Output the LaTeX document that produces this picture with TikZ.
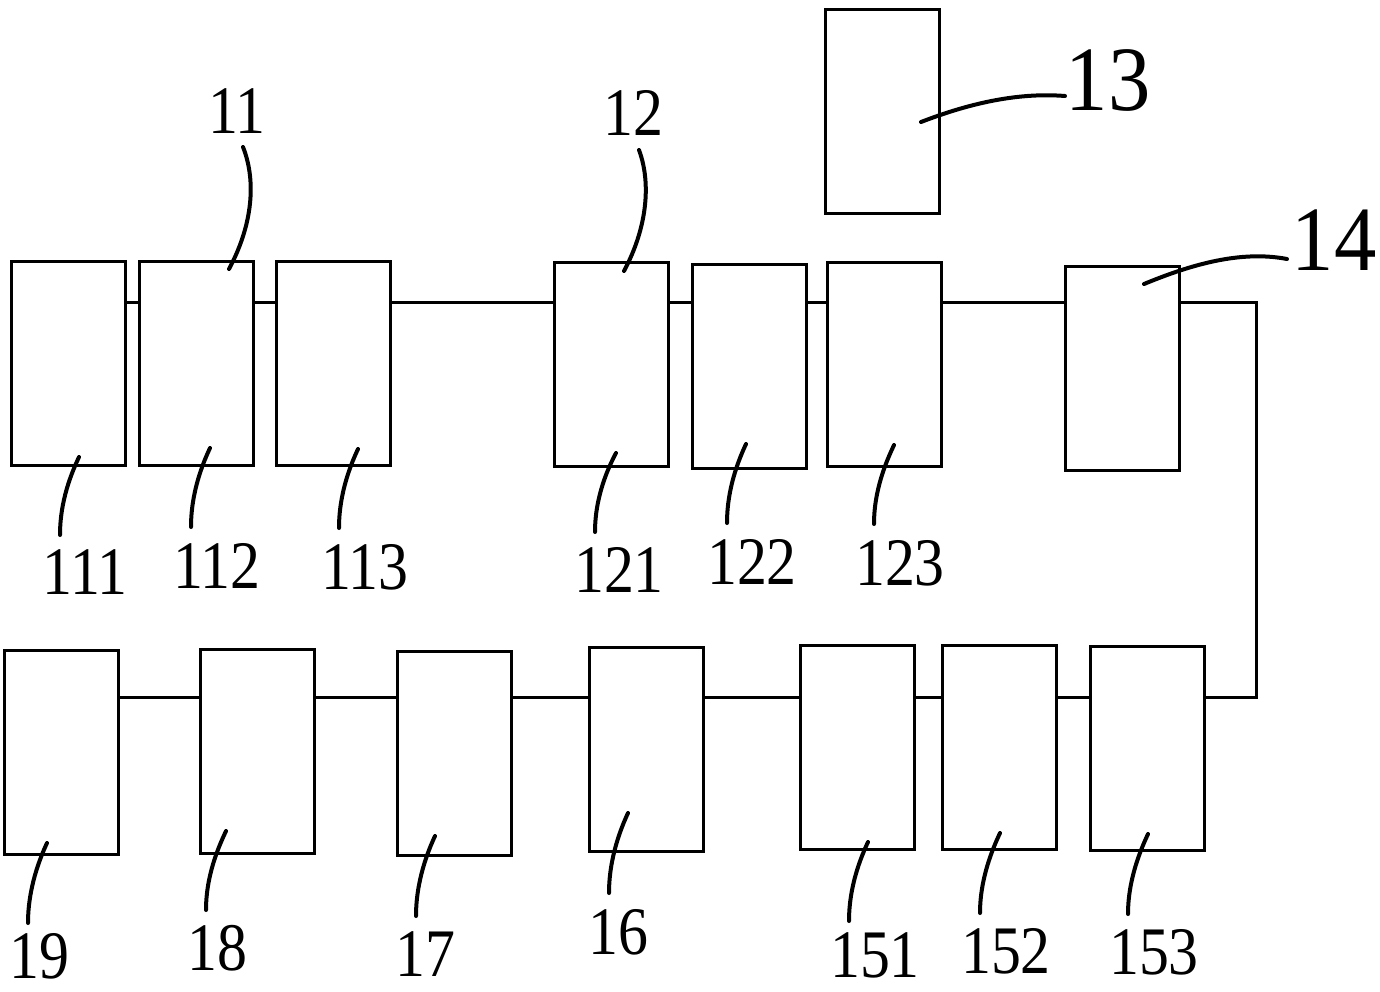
\documentclass[tikz,border=0pt]{standalone}
\usepackage{graphicx}
\usepackage{fontspec}
\setmainfont{Liberation Serif}
\tikzset{
  blk/.style={draw, line width=3pt, minimum width=114pt, minimum height=204pt, inner sep=0pt, fill=white},
  wire/.style={line width=3pt},
  leader/.style={line width=4pt, line cap=round},
  lbl/.style={inner sep=0pt, font=\fontsize{68}{68}\selectfont},
  biglbl/.style={inner sep=0pt, font=\fontsize{92}{92}\selectfont}
}
\newcommand{\nar}[1]{\scalebox{0.88}[1]{#1}}
\begin{document}
\begin{tikzpicture}[x=1pt,y=-1pt]
\useasboundingbox (0,0) rectangle (1380,991);
% boxes
\node[blk] (b111) at (68.5,363.5) {};
\node[blk] (b112) at (196,363.5) {};
\node[blk] (b113) at (333.5,363.5) {};
\node[blk] (b121) at (611,364.5) {};
\node[blk] (b122) at (749,366.5) {};
\node[blk] (b123) at (884.5,364.5) {};
\node[blk] (b13)  at (882.5,111) {};
\node[blk] (b14)  at (1122,368.5) {};
\node[blk] (b19)  at (61.5,752) {};
\node[blk] (b18)  at (257.5,751) {};
\node[blk] (b17)  at (454,753) {};
\node[blk] (b16)  at (646.5,749) {};
\node[blk] (b151) at (857,747) {};
\node[blk] (b152) at (999,747) {};
\node[blk] (b153) at (1147,748.5) {};
% wire levels
\coordinate (tl) at (0,302);
\coordinate (bl) at (0,697);
\coordinate (corner) at (1256.5,302.5);
% top row
\draw[wire] (b111.east |- tl) -- (b112.west |- tl);
\draw[wire] (b112.east |- tl) -- (b113.west |- tl);
\draw[wire] (b113.east |- tl) -- (b121.west |- tl);
\draw[wire] (b121.east |- tl) -- (b122.west |- tl);
\draw[wire] (b122.east |- tl) -- (b123.west |- tl);
\draw[wire] (b123.east |- tl) -- (b14.west |- tl);
\draw[wire] (b14.east |- corner) -- (corner) |- (b153.east |- bl);
% bottom row
\draw[wire] (b153.west |- bl) -- (b152.east |- bl);
\draw[wire] (b152.west |- bl) -- (b151.east |- bl);
\draw[wire] (b151.west |- bl) -- (b16.east |- bl);
\draw[wire] (b16.west |- bl) -- (b17.east |- bl);
\draw[wire] (b17.west |- bl) -- (b18.east |- bl);
\draw[wire] (b18.west |- bl) -- (b19.east |- bl);
% labels
\node[lbl] (l11) at (237,111) {\nar{11}};
\node[lbl] (l12) at (633,113) {\nar{12}};
\node[biglbl] (l13) at (1108,80) {\scalebox{0.92}[1]{13}};
\node[biglbl] (l14) at (1334,240) {\scalebox{0.92}[1]{14}};
\node[lbl] (l111) at (85,572) {\nar{111}};
\node[lbl] (l112) at (217,566) {\nar{112}};
\node[lbl] (l113) at (365,567) {\nar{113}};
\node[lbl] (l121) at (619,570) {\nar{121}};
\node[lbl] (l122) at (752,562) {\nar{122}};
\node[lbl] (l123) at (900,563) {\nar{123}};
\node[lbl] (l19) at (39,956) {\nar{19}};
\node[lbl] (l18) at (217,948) {\nar{18}};
\node[lbl] (l17) at (425,954) {\nar{17}};
\node[lbl] (l16) at (618,932) {\nar{16}};
\node[lbl] (l151) at (875,955) {\nar{151}};
\node[lbl] (l152) at (1006,951) {\nar{152}};
\node[lbl] (l153) at (1154,952) {\nar{153}};
% leader end points
\coordinate (o11) at (243,147);   \coordinate (i11) at (229,269);
\coordinate (o12) at (639,150);   \coordinate (i12) at (624,271);
\coordinate (i13) at (921,122);   \coordinate (o13) at (1065,96);
\coordinate (i14) at (1144,284);  \coordinate (o14) at (1287,259);
\coordinate (o111) at (60,535);   \coordinate (i111) at (79,457);
\coordinate (o112) at (191,527);  \coordinate (i112) at (210,448);
\coordinate (o113) at (339,528);  \coordinate (i113) at (358,449);
\coordinate (o121) at (595,532);  \coordinate (i121) at (616,453);
\coordinate (o122) at (727,523);  \coordinate (i122) at (746,444);
\coordinate (o123) at (874,524);  \coordinate (i123) at (894,445);
\coordinate (o19) at (28,923);    \coordinate (i19) at (47,843);
\coordinate (o18) at (206,910);   \coordinate (i18) at (226,831);
\coordinate (o17) at (416,916);   \coordinate (i17) at (435,836);
\coordinate (o16) at (609,893);   \coordinate (i16) at (628,813);
\coordinate (o151) at (849,921);  \coordinate (i151) at (868,842);
\coordinate (o152) at (980,913);  \coordinate (i152) at (1000,833);
\coordinate (o153) at (1128,914); \coordinate (i153) at (1148,834);
% leaders
\draw[leader] (o11) .. controls (258,185) and (250,230) .. (i11);
\draw[leader] (o12) .. controls (652,185) and (646,230) .. (i12);
\draw[leader] (i13) .. controls (965,105) and (1015,92) .. (o13);
\draw[leader] (i14) .. controls (1190,265) and (1240,250) .. (o14);
\draw[leader] (o111) .. controls (60,500) and (72,472) .. (i111);
\draw[leader] (o112) .. controls (191,492) and (203,463) .. (i112);
\draw[leader] (o113) .. controls (339,493) and (351,464) .. (i113);
\draw[leader] (o121) .. controls (595,497) and (608,468) .. (i121);
\draw[leader] (o122) .. controls (727,488) and (739,459) .. (i122);
\draw[leader] (o123) .. controls (874,489) and (887,460) .. (i123);
\draw[leader] (o19) .. controls (28,888) and (40,858) .. (i19);
\draw[leader] (o18) .. controls (206,875) and (219,846) .. (i18);
\draw[leader] (o17) .. controls (416,881) and (428,851) .. (i17);
\draw[leader] (o16) .. controls (609,858) and (621,828) .. (i16);
\draw[leader] (o151) .. controls (849,886) and (861,857) .. (i151);
\draw[leader] (o152) .. controls (980,878) and (993,848) .. (i152);
\draw[leader] (o153) .. controls (1128,879) and (1141,849) .. (i153);
\end{tikzpicture}
\end{document}
